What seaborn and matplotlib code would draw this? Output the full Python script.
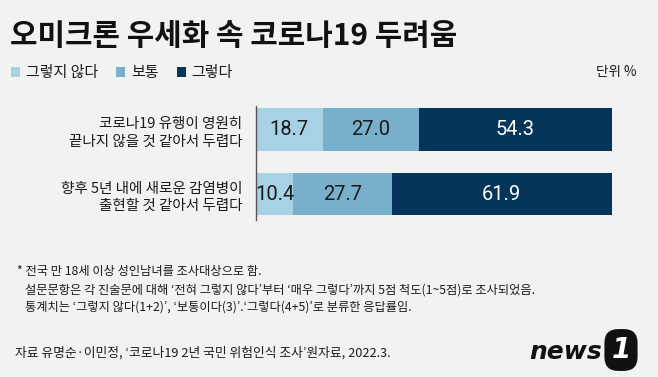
import matplotlib
matplotlib.use("Agg")
import matplotlib.pyplot as plt
import seaborn as sns
import pandas as pd
import numpy as np
from matplotlib.patches import Patch

# ---- data ----
categories = ["코로나19 유행이 영원히\n끝나지 않을 것 같아서 두렵다",
              "향후 5년 내에 새로운 감염병이\n출현할 것 같아서 두렵다"]
series_names = ["그렇지 않다", "보통", "그렇다"]
disagree = [18.7, 10.4]
neutral = [27.0, 27.7]
agree = [54.3, 61.9]
colors = ["#a7d2e4", "#78afca", "#06355a"]
text_colors = ["#1a1a1a", "#1a1a1a", "#ffffff"]

title = "오미크론 우세화 속 코로나19 두려움"
unit = "단위 %"
notes = ["* 전국 만 18세 이상 성인남녀를 조사대상으로 함.",
         "설문문항은 각 진술문에 대해 ‘전혀 그렇지 않다’부터 ‘매우 그렇다’까지 5점 척도(1~5점)로 조사되었음.",
         "통계치는 ‘그렇지 않다(1+2)’, ‘보통이다(3)’.‘그렇다(4+5)’로 분류한 응답률임."]
source = "자료 유명순·이민정, ‘코로나19 2년 국민 위험인식 조사’원자료, 2022.3."

BG = "#f2f2f2"
W, H = 658, 377

sns.set_theme(style="white")
plt.rcParams['font.family'] = ['Noto Sans CJK KR', 'DejaVu Sans']

fig = plt.figure(figsize=(W / 100, H / 100), dpi=100, facecolor=BG)

def fx(x):
    return x / W

def fy(y):
    return 1 - y / H

ax_left, ax_right, ax_top, ax_bot = 256, 612, 106, 220
ax = fig.add_axes([fx(ax_left), fy(ax_bot), fx(ax_right - ax_left), (ax_bot - ax_top) / H])
ax.set_facecolor(BG)

series = [disagree, neutral, agree]
df = pd.DataFrame({"cat": categories})
cum = np.cumsum(np.array(series), axis=0)  # cumulative ends per series
for i in range(len(series) - 1, -1, -1):
    df["val"] = cum[i]
    sns.barplot(data=df, y="cat", x="val", orient="h", color=colors[i],
                width=0.665, ax=ax, saturation=1, linewidth=0)

# value labels
for j in range(len(categories)):
    start = 0
    for i, s in enumerate(series):
        v = s[j]
        ax.text(start + v / 2, j, f"{v:.1f}", ha="center", va="center",
                color=text_colors[i], fontsize=14.5, family=["Roboto", "DejaVu Sans"])
        start += v

ax.set_xlim(0, 100)
ax.set_ylim(1.403, -0.364)
ax.set_xticks([])
ax.set_xlabel("")
ax.set_ylabel("")
for sp in ["top", "right", "bottom"]:
    ax.spines[sp].set_visible(False)
ax.spines["left"].set_color("#555555")
ax.spines["left"].set_linewidth(1.0)
ax.tick_params(axis="y", length=0, pad=10)
for lbl in ax.get_yticklabels():
    lbl.set_fontsize(10.5)
    lbl.set_color("#1a1a1a")
    lbl.set_linespacing(1.35)

# title
fig.text(fx(10), fy(36), title, fontsize=21.5, fontweight="bold", color="#111111",
         ha="left", va="center")

# legend
handles = [Patch(facecolor=c, edgecolor="none") for c in colors]
fig.legend(handles, series_names, loc="center left", bbox_to_anchor=(fx(11), fy(73)),
           ncol=3, frameon=False, fontsize=10.8, handlelength=0.6, handleheight=0.7,
           handletextpad=0.4, columnspacing=1.2, borderaxespad=0, borderpad=0,
           labelcolor="#1a1a1a")

fig.text(fx(637), fy(72), unit, fontsize=9.8, ha="right", va="center", color="#1a1a1a")

# notes
note_pos = [(17, 272), (25, 290), (25, 307)]
for (x, y), t in zip(note_pos, notes):
    fig.text(fx(x), fy(y), t, fontsize=8.8, ha="left", va="center", color="#1a1a1a")
fig.text(fx(15), fy(353), source, fontsize=9.2, ha="left", va="center", color="#1a1a1a")

# news1 logo as text
fig.text(fx(529), fy(352), "news", fontsize=18, fontweight="heavy", fontstyle="italic",
         family=["DejaVu Sans"], color="#111111", ha="left", va="center")
fig.text(fx(621), fy(350), "1", fontsize=20, fontweight="heavy", fontstyle="italic",
         family=["DejaVu Sans"], color="white", ha="center", va="center",
         bbox=dict(boxstyle="round,pad=0.25,rounding_size=0.5", facecolor="#111111", edgecolor="none"))

fig.savefig("out.png", dpi=100, facecolor=BG)
